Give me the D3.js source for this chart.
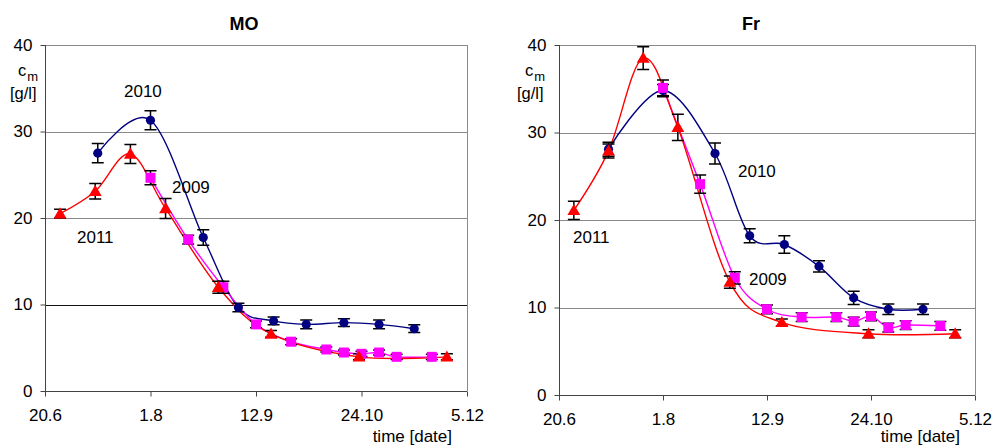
<!DOCTYPE html>
<html>
<head>
<meta charset="utf-8">
<script src="https://cdn.jsdelivr.net/npm/d3@7"></script>
<style>
  html, body { margin: 0; padding: 0; background: #fff; }
  svg { display: block; font-family: "Liberation Sans", Arial, sans-serif; }
  .tick-label { font-size: 17px; fill: #000; }
  .note { font-size: 17px; fill: #000; }
</style>
</head>
<body>
<div id="chart"></div>
<script>
// axis range and ticks (day.month)
const xDomain = ['20.6', '5.12'];
const xTicks = ['20.6', '1.8', '12.9', '24.10', '5.12'];
const yTicks = [0, 10, 20, 30, 40];

// MO panel
const moDates2010 = ['11.7', '1.8', '22.8', '5.9', '19.9', '2.10', '17.10', '31.10', '14.11'];
const moVals2010  = [27.5, 31.3, 17.75, 9.65, 8.1, 7.7, 7.9, 7.7, 7.2];
const moErr2010   = [1.1, 1.1, 0.9, 0.5, 0.45, 0.5, 0.45, 0.5, 0.45];

const moDates2009 = ['1.8', '16.8', '30.8', '12.9', '26.9', '10.10', '17.10', '24.10', '31.10', '7.11', '21.11'];
const moVals2009  = [24.65, 17.5, 12.0, 7.7, 5.7, 4.8, 4.45, 4.3, 4.45, 3.95, 3.95];
const moErr2009   = [0.8, 0.5, 0.7, 0.4, 0.35, 0.3, 0.3, 0.3, 0.3, 0.3, 0.3];

const moDates2011 = ['26.6', '10.7', '24.7', '7.8', '28.8', '18.9', '23.10', '27.11'];
const moVals2011  = [20.5, 23.1, 27.4, 21.1, 12.0, 6.6, 3.95, 3.95];
const moErr2011   = [0.5, 0.9, 1.1, 1.15, 0.7, 0.4, 0.35, 0.35];

// Fr panel
const frDates2010 = ['10.7', '1.8', '22.8', '5.9', '19.9', '3.10', '17.10', '31.10', '14.11'];
const frVals2010  = [28.1, 34.8, 27.6, 18.2, 17.2, 14.7, 11.1, 9.8, 9.8];
const frErr2010   = [0.8, 0.7, 1.2, 0.8, 1.0, 0.65, 0.75, 0.6, 0.6];

const frDates2009 = ['1.8', '16.8', '30.8', '12.9', '26.9', '10.10', '17.10', '24.10', '31.10', '7.11', '21.11'];
const frVals2009  = [35.1, 24.1, 13.4, 9.8, 8.9, 8.9, 8.4, 9.0, 7.7, 8.0, 7.9];
const frErr2009   = [0.9, 1.05, 0.7, 0.5, 0.5, 0.5, 0.5, 0.5, 0.5, 0.5, 0.5];

const frDates2011 = ['26.6', '10.7', '24.7', '7.8', '28.8', '18.9', '23.10', '27.11'];
const frVals2011  = [21.1, 27.9, 38.5, 30.6, 12.9, 8.3, 7.0, 7.0];
const frErr2011   = [1.05, 0.8, 1.3, 1.5, 0.7, 0.4, 0.45, 0.45];

const parseDate = d3.timeParse('%d.%m');
const fmtDate = d => `${d.getDate()}.${d.getMonth() + 1}`;

const COLORS = { 2010: '#000080', 2009: '#ff00ff', 2011: '#ff0000' };

function makeSeries(year, dates, vals, errs, shape) {
  return {
    year, shape,
    points: dates.map((d, i) => ({ date: parseDate(d), value: vals[i], err: errs[i] }))
  };
}

const panels = [
  {
    title: 'MO', titleX: 244, box: { left: 45, right: 467, top: 45, bottom: 391 },
    darkGrid: [10], labelDx: 0,
    series: [
      makeSeries(2010, moDates2010, moVals2010, moErr2010, 'circle'),
      makeSeries(2009, moDates2009, moVals2009, moErr2009, 'square'),
      makeSeries(2011, moDates2011, moVals2011, moErr2011, 'triangle')
    ],
    notes: [
      { text: '2010', x: 124, y: 97 },
      { text: '2009', x: 172, y: 193 },
      { text: '2011', x: 77, y: 243 }
    ]
  },
  {
    title: 'Fr', titleX: 751, box: { left: 559, right: 975, top: 45, bottom: 395 },
    darkGrid: [], labelDx: 507,
    series: [
      makeSeries(2010, frDates2010, frVals2010, frErr2010, 'circle'),
      makeSeries(2009, frDates2009, frVals2009, frErr2009, 'square'),
      makeSeries(2011, frDates2011, frVals2011, frErr2011, 'triangle')
    ],
    notes: [
      { text: '2010', x: 738, y: 177 },
      { text: '2009', x: 749, y: 285 },
      { text: '2011', x: 573, y: 243 }
    ]
  }
];

const svg = d3.select('#chart').append('svg')
  .attr('width', 993)
  .attr('height', 448);

panels.forEach(drawPanel);

function drawPanel(p) {
  const b = p.box;
  const x = d3.scaleTime().domain(xDomain.map(parseDate)).range([b.left, b.right]);
  const y = d3.scaleLinear().domain([0, 40]).range([b.bottom, b.top]);
  const g = svg.append('g');

  // gridlines
  g.append('g').selectAll('line')
    .data(yTicks.filter(t => t > 0))
    .join('line')
      .attr('x1', b.left).attr('x2', b.right)
      .attr('y1', d => Math.round(y(d)) + 0.5).attr('y2', d => Math.round(y(d)) + 0.5)
      .attr('stroke', d => p.darkGrid.includes(d) ? '#111' : '#8a8a8a')
      .attr('stroke-width', 1);

  // right border
  g.append('line')
    .attr('x1', Math.round(b.right) + 0.5).attr('x2', Math.round(b.right) + 0.5)
    .attr('y1', y(40)).attr('y2', b.bottom)
    .attr('stroke', '#8a8a8a');

  // axes
  const yAxis = d3.axisLeft(y).tickValues(yTicks).tickSize(5).tickPadding(8).tickFormat(d3.format('d'));
  const gy = g.append('g').attr('transform', `translate(${Math.round(b.left) + 0.5},0)`).call(yAxis);
  const xAxis = d3.axisBottom(x).tickValues(xTicks.map(parseDate)).tickSize(5).tickPadding(12).tickFormat(fmtDate);
  const gx = g.append('g').attr('transform', `translate(0,${Math.round(b.bottom) + 0.5})`).call(xAxis);
  [gx, gy].forEach(ax => {
    ax.select('.domain').attr('stroke', '#444');
    ax.selectAll('.tick line').attr('stroke', '#444');
    ax.selectAll('.tick text').attr('class', 'tick-label')
      .style('font-family', '"Liberation Sans", Arial, sans-serif');
  });
  gx.select('.domain').attr('d', `M${b.left},0H${b.right}`);
  gy.select('.domain').attr('d', `M0,${b.bottom}V${b.top}`);

  // title
  g.append('text')
    .attr('x', p.titleX).attr('y', 30)
    .attr('text-anchor', 'middle')
    .style('font-size', '18px').style('font-weight', 'bold')
    .text(p.title);

  // y label c_m [g/l]
  const yl = g.append('text').attr('x', 18 + p.labelDx).attr('y', 76).style('font-size', '16.5px');
  yl.append('tspan').text('c');
  yl.append('tspan').attr('dy', 5).attr('dx', 1).style('font-size', '13px').text('m');
  g.append('text').attr('x', 10 + p.labelDx).attr('y', 99).style('font-size', '16.5px').text('[g/l]');

  // x label
  g.append('text')
    .attr('x', b.right - 15).attr('y', 442)
    .attr('text-anchor', 'end')
    .style('font-size', '17px')
    .text('time [date]');

  // series lines
  const line = d3.line()
    .x(d => x(d.date))
    .y(d => y(d.value))
    .curve(d3.curveCardinal.tension(0));

  p.series.forEach(s => {
    g.append('path')
      .datum(s.points)
      .attr('fill', 'none')
      .attr('stroke', COLORS[s.year])
      .attr('stroke-width', 1.4)
      .attr('d', line);
  });

  // error bars
  p.series.forEach(s => {
    const eb = g.append('g').attr('stroke', '#000').attr('stroke-width', 1.5).attr('fill', 'none');
    eb.selectAll('path')
      .data(s.points)
      .join('path')
        .attr('d', d => {
          const cx = x(d.date), y1 = y(d.value + d.err), y2 = y(d.value - d.err);
          return `M${cx},${y1}V${y2}M${cx - 6},${y1}H${cx + 6}M${cx - 6},${y2}H${cx + 6}`;
        });
  });

  // markers
  const sym = {
    circle: d3.symbol(d3.symbolCircle, 66),
    square: d3.symbol(d3.symbolSquare, 100),
    triangle: d3.symbol(d3.symbolTriangle, 72)
  };
  p.series.forEach(s => {
    g.append('g').selectAll('path')
      .data(s.points)
      .join('path')
        .attr('transform', d => `translate(${x(d.date)},${y(d.value) + (s.shape === 'triangle' ? 1 : 0)})`)
        .attr('d', sym[s.shape])
        .attr('fill', COLORS[s.year]);
  });

  // series annotations
  g.selectAll('.note')
    .data(p.notes)
    .join('text')
      .attr('class', 'note')
      .attr('x', d => d.x).attr('y', d => d.y)
      .text(d => d.text);
}
</script>
</body>
</html>
